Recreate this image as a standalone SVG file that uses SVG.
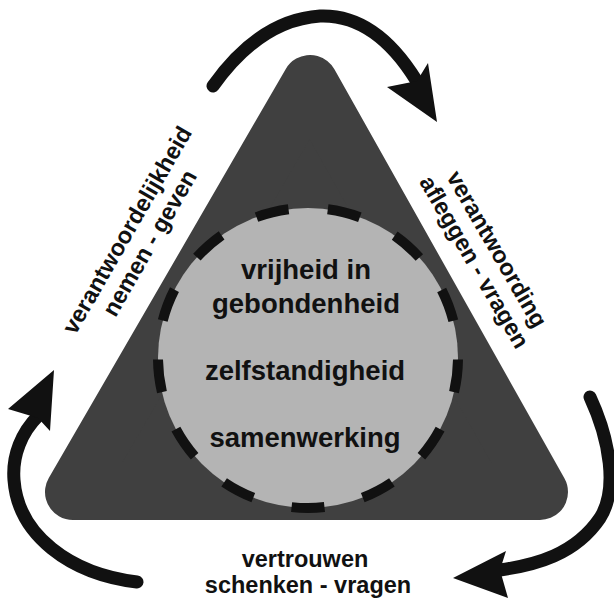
<svg xmlns="http://www.w3.org/2000/svg" width="614" height="600" viewBox="0 0 614 600">
  <style>
    .lbl { font-family: "Liberation Sans", Arial, Helvetica, sans-serif; font-weight: bold; fill: #111111; text-anchor: middle; }
    .big { font-size: 27.5px; }
    .side { font-size: 23.5px; }
    .shaft { fill: none; stroke: #111111; stroke-width: 13; stroke-linecap: round; stroke-linejoin: round; }
    .head { fill: #111111; stroke: none; }
  </style>
  <rect x="0" y="0" width="614" height="600" fill="#ffffff"/>

  <g id="triangle">
    <polygon points="310,83 73,492 540,492" fill="#404040" stroke="#404040" stroke-width="56" stroke-linejoin="round"/>
  </g>

  <g id="core">
    <circle cx="308" cy="358" r="150" fill="#b4b4b4" stroke="#111111" stroke-width="10" stroke-dasharray="33 39.5" stroke-dashoffset="-1.5"/>
    <text class="lbl big" x="306" y="279">vrijheid in</text>
    <text class="lbl big" x="306" y="313">gebondenheid</text>
    <text class="lbl big" x="305" y="380">zelfstandigheid</text>
    <text class="lbl big" x="305" y="447">samenwerking</text>
  </g>

  <g id="label-left" transform="translate(134,234) rotate(-60)">
    <text class="lbl side" x="0" y="0">verantwoordelijkheid</text>
    <text class="lbl side" x="0" y="26">nemen - geven</text>
  </g>

  <g id="label-right" transform="translate(490,253) rotate(60)">
    <text class="lbl side" x="0" y="0">verantwoording</text>
    <text class="lbl side" x="0" y="26">afleggen - vragen</text>
  </g>

  <g id="label-bottom">
    <text class="lbl side" x="305" y="567">vertrouwen</text>
    <text class="lbl side" x="308" y="593">schenken - vragen</text>
  </g>

  <g id="connectors">
    <path class="shaft" d="M213,86 Q260,20 320,16 Q375,14 416,80"/>
    <polygon class="head" points="437,122 428,63 417,81 387,87"/>
    <path class="shaft" d="M590,397 C610,440 618,490 600,518 C575,555 535,565 500,570"/>
    <polygon class="head" points="453,578 506,551 500,570 508,598"/>
    <path class="shaft" d="M137,582 C70,574 18,535 14,480 C12,455 22,432 38,416"/>
    <polygon class="head" points="54,370 50,431 38,418 8,409"/>
  </g>
</svg>
